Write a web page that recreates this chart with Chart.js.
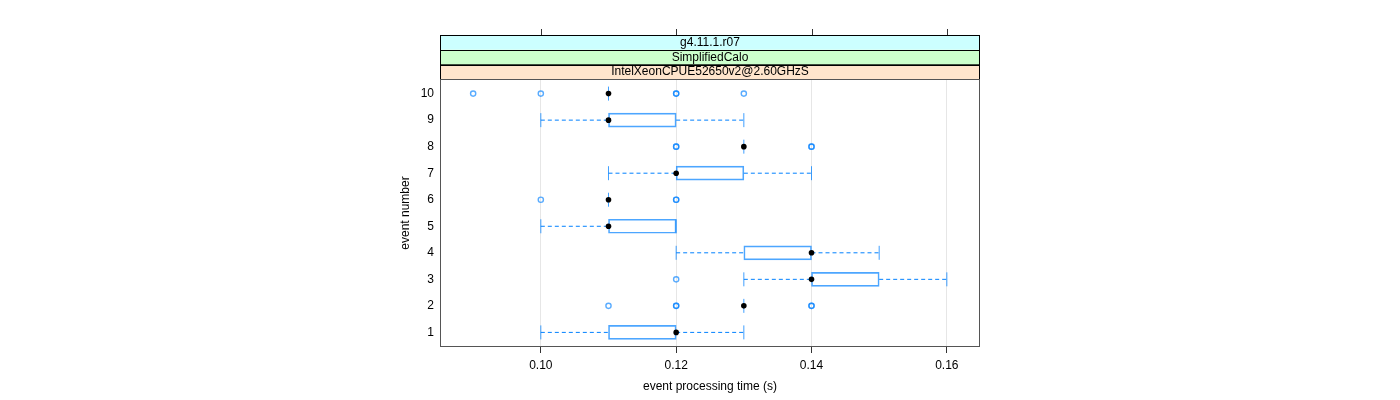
<!DOCTYPE html>
<html>
<head>
<meta charset="utf-8">
<script src="https://cdn.jsdelivr.net/npm/chart.js@4.4.0/dist/chart.umd.min.js"></script>
<style>
  html, body { margin: 0; padding: 0; background: #fff; }
  #wrap { width: 1400px; height: 400px; }
</style>
</head>
<body>
<div id="wrap"><canvas id="chart" width="1400" height="400"></canvas></div>
<script>
// event numbers (rows) and five-number summaries
const events  = [1, 2, 3, 4, 5, 6, 7, 8, 9, 10];
const lowers  = [0.10, 0.13, 0.13, 0.12, 0.10, 0.11, 0.11, 0.13, 0.10, 0.11];
const q1s     = [0.11, 0.13, 0.14, 0.13, 0.11, 0.11, 0.12, 0.13, 0.11, 0.11];
const medians = [0.12, 0.13, 0.14, 0.14, 0.11, 0.11, 0.12, 0.13, 0.11, 0.11];
const q3s     = [0.12, 0.13, 0.15, 0.14, 0.12, 0.11, 0.13, 0.13, 0.12, 0.11];
const uppers  = [0.13, 0.13, 0.16, 0.15, 0.12, 0.11, 0.14, 0.13, 0.13, 0.11];
// outliers per event (repeated values overlap and look bolder)
const outliers = [
  [],
  [0.11, 0.12, 0.12, 0.14, 0.14],
  [0.12],
  [],
  [],
  [0.10, 0.12, 0.12],
  [],
  [0.12, 0.12, 0.14, 0.14],
  [],
  [0.09, 0.10, 0.12, 0.12, 0.13]
];
const xTicks = [0.10, 0.12, 0.14, 0.16];
const stripLabels = ['IntelXeonCPUE52650v2@2.60GHzS', 'SimplifiedCalo', 'g4.11.1.r07'];
const stripColors = ['#ffe5cc', '#ccffcc', '#ccffff'];

const FONT = '"Liberation Sans", Arial, sans-serif';
const BLUE = '#0080ff';

// build datasets from the arrays
const whiskerPts = [];
const capPts = [];
const boxPts = [];
const outlierPts = [];
const medianPts = [];
events.forEach((ev, i) => {
  if (lowers[i] < q1s[i]) {
    whiskerPts.push({ x: lowers[i], y: ev }, { x: q1s[i], y: ev }, { x: q1s[i], y: null });
  }
  if (uppers[i] > q3s[i]) {
    whiskerPts.push({ x: q3s[i], y: ev }, { x: uppers[i], y: ev }, { x: uppers[i], y: null });
  }
  capPts.push({ x: lowers[i], y: ev });
  if (uppers[i] !== lowers[i]) capPts.push({ x: uppers[i], y: ev });
  if (q3s[i] > q1s[i]) boxPts.push({ y: ev, x: [q1s[i], q3s[i]] });
  outliers[i].forEach(v => outlierPts.push({ x: v, y: ev }));
  medianPts.push({ x: medians[i], y: ev });
});

// strips, top ticks and panel frame
const latticePlugin = {
  id: 'lattice',
  afterDraw(chart) {
    const ctx = chart.ctx;
    const a = chart.chartArea;
    const xs = chart.scales.x;
    const h = 14.7;
    ctx.save();
    // strips
    for (let k = 0; k < stripLabels.length; k++) {
      const y0 = a.top - h * (k + 1);
      ctx.fillStyle = stripColors[k];
      ctx.fillRect(a.left, y0, a.right - a.left, h);
      ctx.strokeStyle = '#000';
      ctx.lineWidth = 1;
      ctx.strokeRect(a.left + 0.5, Math.round(y0) + 0.5, a.right - a.left - 1, Math.round(h));
      ctx.fillStyle = '#000';
      ctx.font = '12px ' + FONT;
      ctx.textAlign = 'center';
      ctx.textBaseline = 'middle';
      ctx.fillText(stripLabels[k], (a.left + a.right) / 2, y0 + h / 2 + 0.5);
    }
    // top ticks above the strips
    const topY = Math.round(a.top - h * stripLabels.length);
    ctx.strokeStyle = '#333';
    xTicks.forEach(v => {
      const px = Math.round(xs.getPixelForValue(v)) + 0.5;
      ctx.beginPath();
      ctx.moveTo(px, topY);
      ctx.lineTo(px, topY - 6);
      ctx.stroke();
    });
    // panel frame
    ctx.strokeStyle = '#555';
    ctx.strokeRect(Math.round(a.left) + 0.5, Math.round(a.top) + 0.5,
                   Math.round(a.right - a.left) - 1, Math.round(a.bottom - a.top) - 1);
    ctx.restore();
  }
};

new Chart(document.getElementById('chart'), {
  type: 'scatter',
  data: {
    datasets: [
      {
        type: 'line',
        data: whiskerPts,
        borderColor: BLUE,
        borderWidth: 1,
        borderDash: [4, 3],
        pointRadius: 0,
        spanGaps: false,
        fill: false,
        order: 5
      },
      {
        type: 'bar',
        indexAxis: 'y',
        data: boxPts,
        barThickness: 14,
        borderColor: 'rgba(0,128,255,0.7)',
        backgroundColor: 'rgba(255,255,255,0)',
        borderWidth: 1,
        borderSkipped: false,
        order: 4
      },
      {
        data: capPts,
        pointStyle: 'line',
        rotation: 90,
        radius: 7,
        borderColor: 'rgba(0,128,255,0.75)',
        borderWidth: 1,
        order: 3
      },
      {
        data: outlierPts,
        pointStyle: 'circle',
        radius: 2.6,
        borderColor: 'rgba(0,128,255,0.65)',
        backgroundColor: 'rgba(255,255,255,0)',
        borderWidth: 1.4,
        order: 2
      },
      {
        data: medianPts,
        pointStyle: 'circle',
        radius: 2.8,
        borderColor: '#000',
        backgroundColor: '#000',
        borderWidth: 0,
        order: 1
      }
    ]
  },
  options: {
    responsive: false,
    animation: false,
    events: [],
    layout: { padding: { left: 398, right: 420, top: 79, bottom: 6 } },
    plugins: { legend: { display: false }, tooltip: { enabled: false } },
    scales: {
      x: {
        type: 'linear',
        offset: false,
        min: 0.0851,
        max: 0.1649,
        afterBuildTicks: s => { s.ticks = xTicks.map(v => ({ value: v })); },
        afterFit: s => { s.height = 47; },
        ticks: {
          color: '#000',
          font: { family: FONT, size: 12 },
          padding: 5,
          maxRotation: 0,
          callback: v => Number(v).toFixed(2)
        },
        grid: { color: '#e6e6e6', tickColor: '#333', tickLength: 6, lineWidth: 1, offset: false },
        border: { display: false },
        title: {
          display: true,
          text: 'event processing time (s)',
          color: '#000',
          font: { family: FONT, size: 12 },
          padding: { top: 6, bottom: 0 }
        }
      },
      y: {
        type: 'linear',
        offset: false,
        min: 0.45,
        max: 10.55,
        afterBuildTicks: s => { s.ticks = events.map(v => ({ value: v })); },
        afterFit: s => { s.width = 42; },
        ticks: {
          color: '#000',
          font: { family: FONT, size: 12 },
          padding: 6
        },
        grid: { display: false, drawTicks: false, offset: false },
        border: { display: false },
        title: {
          display: true,
          text: 'event number',
          color: '#000',
          font: { family: FONT, size: 12 },
          padding: 0
        }
      }
    }
  },
  plugins: [latticePlugin]
});
</script>
</body>
</html>
